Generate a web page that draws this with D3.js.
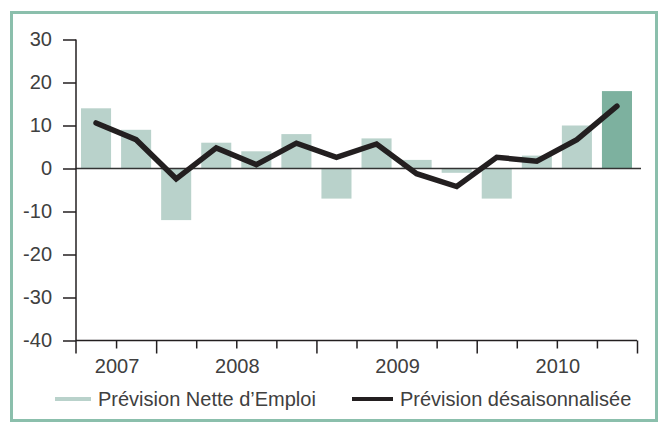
<!DOCTYPE html>
<html>
<head>
<meta charset="utf-8">
<script src="https://cdn.jsdelivr.net/npm/d3@7"></script>
<style>
  html, body { margin: 0; padding: 0; background: #fff; }
  svg { display: block; }
  text { font-family: "Liberation Sans", Arial, sans-serif; fill: #404040; }
</style>
</head>
<body>
<script>
// ---- data ----
const quarters = ["T3 2007","T4 2007","T1 2008","T2 2008","T3 2008","T4 2008",
                  "T1 2009","T2 2009","T3 2009","T4 2009","T1 2010","T2 2010","T3 2010","T4 2010"];
const netEmployment = [14, 9, -12, 6, 4, 8, -7, 7, 2, -1, -7, 3, 10, 18];
const seasonallyAdjusted = [10.6, 6.7, -2.4, 4.8, 0.9, 5.9, 2.6, 5.7, -1.2, -4.2, 2.6, 1.7, 6.7, 14.5];
const years = ["2007", "2008", "2009", "2010"];
const yearStartIndex = [0, 2, 6, 10];
const yearEndIndex = [2, 6, 10, 14];
const yTicks = [-40, -30, -20, -10, 0, 10, 20, 30];
const legendLabels = ["Prévision Nette d\u2019Emploi", "Prévision désaisonnalisée"];

// ---- layout ----
const W = 662, H = 422;
const plotLeft = 76, plotRight = 637, plotTop = 39.5, plotBottom = 340.5;
const lightBar = "#b9d2cb", darkBar = "#7db19f", frame = "#8bbfac", ink = "#231f20";
const fontSize = "20px";

const svg = d3.select("body").append("svg").attr("width", W).attr("height", H);

// frame
svg.append("rect").attr("x", 11.5).attr("y", 12.5).attr("width", 645).attr("height", 408)
  .attr("fill", "none").attr("stroke", frame).attr("stroke-width", 3);

const x = d3.scaleBand().domain(quarters).range([plotLeft, plotRight]).paddingInner(0.25).paddingOuter(0.125);
const xb = d3.scaleLinear().domain([0, quarters.length]).range([plotLeft, plotRight]);
const y = d3.scaleLinear().domain([-40, 30]).range([plotBottom, plotTop]);

// bars
svg.append("g").selectAll("rect").data(netEmployment).join("rect")
  .attr("x", (d, i) => x(quarters[i]))
  .attr("width", x.bandwidth())
  .attr("y", d => Math.min(y(d), y(0)))
  .attr("height", d => Math.abs(y(d) - y(0)))
  .attr("fill", (d, i) => i === netEmployment.length - 1 ? darkBar : lightBar);

// zero line
svg.append("line").attr("x1", plotLeft).attr("x2", 641).attr("y1", y(0)).attr("y2", y(0))
  .attr("stroke", "#333").attr("stroke-width", 1.4);

// y axis
const yAxis = d3.axisLeft(y).tickValues(yTicks).tickSize(13).tickPadding(11).tickFormat(d => String(d));
const gy = svg.append("g").attr("transform", `translate(${plotLeft},0)`).call(yAxis);
gy.select(".domain").remove();
gy.append("line").attr("x1", 0).attr("x2", 0).attr("y1", plotTop).attr("y2", plotBottom + 13)
  .attr("stroke", ink).attr("stroke-width", 1.5);
gy.selectAll(".tick line").attr("stroke", ink).attr("stroke-width", 1.5);
gy.selectAll(".tick text").style("font-size", fontSize).attr("fill", "#404040").attr("font-family", null);

// x axis (quarter boundaries)
const boundaries = d3.range(1, quarters.length + 1);
const xAxis = d3.axisBottom(xb).tickValues(boundaries).tickSize(8).tickFormat("");
const gx = svg.append("g").attr("transform", `translate(0,${plotBottom})`).call(xAxis);
gx.select(".domain").remove();
gx.append("line").attr("x1", plotLeft).attr("x2", xb(quarters.length)).attr("y1", 0).attr("y2", 0)
  .attr("stroke", ink).attr("stroke-width", 1.5);
gx.selectAll(".tick line").attr("stroke", ink).attr("stroke-width", 1.5)
  .attr("y2", d => yearEndIndex.includes(d) ? 13 : 8);

// year labels
svg.append("g").selectAll("text").data(years).join("text")
  .attr("x", (d, i) => (xb(yearStartIndex[i]) + xb(yearEndIndex[i])) / 2 + 1)
  .attr("y", 373)
  .attr("text-anchor", "middle")
  .style("font-size", fontSize)
  .text(d => d);

// line series
const line = d3.line()
  .x((d, i) => x(quarters[i]) + x.bandwidth() / 2)
  .y(d => y(d));
svg.append("path").datum(seasonallyAdjusted)
  .attr("d", line)
  .attr("fill", "none").attr("stroke", ink).attr("stroke-width", 5.5)
  .attr("stroke-linejoin", "miter").attr("stroke-linecap", "round");

// legend
const lg = svg.append("g");
lg.append("line").attr("x1", 55).attr("x2", 91).attr("y1", 399).attr("y2", 399)
  .attr("stroke", lightBar).attr("stroke-width", 4);
lg.append("text").attr("x", 98).attr("y", 406).style("font-size", fontSize).text(legendLabels[0]);
lg.append("line").attr("x1", 352).attr("x2", 393).attr("y1", 399).attr("y2", 399)
  .attr("stroke", ink).attr("stroke-width", 4);
lg.append("text").attr("x", 400).attr("y", 406).style("font-size", fontSize).text(legendLabels[1]);
</script>
</body>
</html>
